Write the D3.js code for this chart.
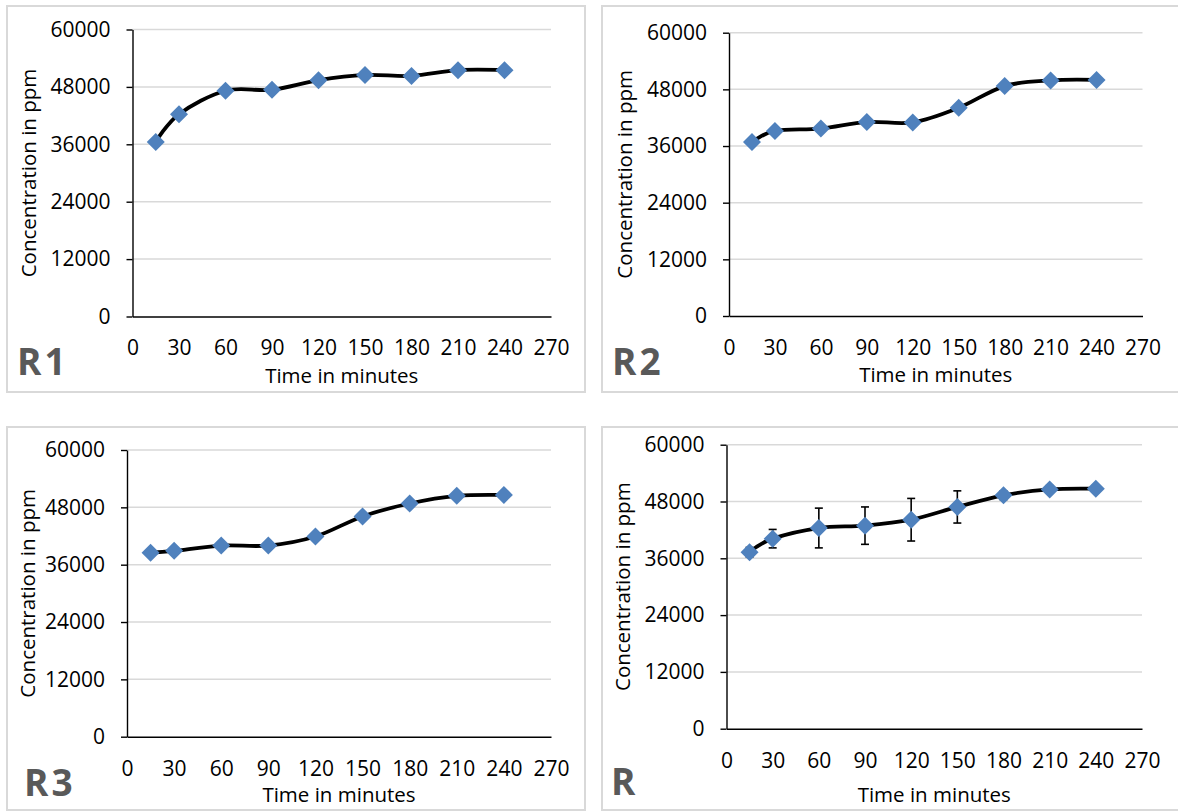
<!DOCTYPE html>
<html>
<head>
<meta charset="utf-8">
<script src="https://cdn.jsdelivr.net/npm/d3@7"></script>
<style>
  html, body { margin: 0; padding: 0; background: #ffffff; }
  svg { display: block; }
  text { font-family: "Open Sans", "DejaVu Sans", sans-serif; fill: #000; }
</style>
</head>
<body>
<svg id="chart" width="1178" height="812"></svg>
<script>
// ---------------- data ----------------
const times = [15, 30, 60, 90, 120, 150, 180, 210, 240];
const r1Values = [36500, 42300, 47200, 47400, 49400, 50500, 50300, 51500, 51500];
const r2Values = [36850, 39200, 39700, 41100, 41000, 44100, 48700, 49900, 50000];
const r3Values = [38500, 38900, 40000, 40000, 41900, 46100, 48800, 50400, 50600];
const rValues  = [37300, 40150, 42400, 42900, 44150, 46850, 49300, 50550, 50700];
const rErrors  = [1000, 1950, 4200, 3950, 4500, 3400, 900, 800, 750];
const xTicks = [0, 30, 60, 90, 120, 150, 180, 210, 240, 270];
const yTicks = [0, 12000, 24000, 36000, 48000, 60000];
const panelLabels = ["R1", "R2", "R3", "R"];
const xTitle = "Time in minutes";
const yTitle = "Concentration in ppm";

// ---------------- layout ----------------
const panels = [
  { label: panelLabels[0], values: r1Values, errors: null,
    frame: {x: 7, y: 6, w: 578, h: 386},
    px0: 132.5, px1: 551, py0: 316.5, py1: 29.5,
    yTitleX: 28, xTitleY: 383, lab: {x: 17, y: 375} },
  { label: panelLabels[1], values: r2Values, errors: null,
    frame: {x: 602, y: 6, w: 600, h: 386},
    px0: 729, px1: 1142.5, py0: 316, py1: 32.7,
    yTitleX: 624, xTitleY: 382, lab: {x: 612, y: 375} },
  { label: panelLabels[2], values: r3Values, errors: null,
    frame: {x: 7, y: 427, w: 578, h: 383},
    px0: 127, px1: 551, py0: 736.7, py1: 450,
    yTitleX: 27, xTitleY: 802, lab: {x: 24, y: 796} },
  { label: panelLabels[3], values: rValues, errors: rErrors,
    frame: {x: 602, y: 427, w: 600, h: 383},
    px0: 726.5, px1: 1142, py0: 728.7, py1: 444.7,
    yTitleX: 622, xTitleY: 802, lab: {x: 611, y: 795} }
];

const svg = d3.select("#chart");
const FS = 21;
const blue = "#4f81bd";
const gridColor = "#d9d9d9";

function diamond(r) {
  return `M0,${-r}L${r},0L0,${r}L${-r},0Z`;
}

panels.forEach(p => {
  const g = svg.append("g");

  // frame
  g.append("rect")
    .attr("x", p.frame.x).attr("y", p.frame.y)
    .attr("width", p.frame.w).attr("height", p.frame.h)
    .attr("fill", "#fff").attr("stroke", gridColor).attr("stroke-width", 2);

  const x = d3.scaleLinear().domain([0, 270]).range([p.px0, p.px1]);
  const y = d3.scaleLinear().domain([0, 60000]).range([p.py0, p.py1]);

  // gridlines
  g.append("g").selectAll("line")
    .data(yTicks.filter(v => v > 0))
    .join("line")
    .attr("x1", x(0)).attr("x2", x(270))
    .attr("y1", d => y(d)).attr("y2", d => y(d))
    .attr("stroke", gridColor).attr("stroke-width", 1.5);

  // y axis
  const yAxis = g.append("g")
    .attr("transform", `translate(${x(0)},0)`)
    .call(d3.axisLeft(y).tickValues(yTicks).tickSize(6).tickSizeOuter(0).tickPadding(16).tickFormat(d3.format("d")));
  yAxis.select(".domain").attr("stroke", "#000").attr("stroke-width", 1.4);
  yAxis.selectAll(".tick line").attr("stroke", "#000").attr("stroke-width", 1.4);
  yAxis.selectAll(".tick text").attr("font-size", FS).attr("font-family", "Open Sans").attr("fill", "#000");

  // x axis
  const xAxis = g.append("g")
    .attr("transform", `translate(0,${y(0)})`)
    .call(d3.axisBottom(x).tickValues(xTicks).tickSize(0).tickSizeOuter(0).tickPadding(24).tickFormat(d3.format("d")));
  xAxis.select(".domain").attr("stroke", "#000").attr("stroke-width", 1.4);
  xAxis.selectAll(".tick text").attr("font-size", FS).attr("font-family", "Open Sans").attr("fill", "#000");

  // axis titles
  g.append("text")
    .attr("x", (x(0) + x(270)) / 2).attr("y", p.xTitleY)
    .attr("text-anchor", "middle").attr("font-size", FS - 0.5)
    .text(xTitle);
  g.append("text")
    .attr("transform", `translate(${p.yTitleX},${(y(0) + y(60000)) / 2}) rotate(-90)`)
    .attr("text-anchor", "middle").attr("dominant-baseline", "central").attr("font-size", FS - 0.5)
    .text(yTitle);

  // panel label
  g.append("text")
    .attr("x", p.lab.x).attr("y", p.lab.y)
    .attr("font-size", 37).attr("font-weight", "bold")
    .attr("letter-spacing", 3)
    .style("fill", "#595959")
    .text(p.label);

  const pts = times.map((t, i) => ({t, v: p.values[i], e: p.errors ? p.errors[i] : 0}));

  // smooth line
  const line = d3.line().x(d => x(d.t)).y(d => y(d.v)).curve(d3.curveCatmullRom.alpha(0));
  g.append("path").datum(pts)
    .attr("d", line).attr("fill", "none")
    .attr("stroke", "#000").attr("stroke-width", 3.8)
    .attr("stroke-linejoin", "round").attr("stroke-linecap", "round");

  // error bars
  if (p.errors) {
    const eb = g.append("g").selectAll("g").data(pts).join("g");
    eb.append("line")
      .attr("x1", d => x(d.t)).attr("x2", d => x(d.t))
      .attr("y1", d => y(d.v - d.e)).attr("y2", d => y(d.v + d.e))
      .attr("stroke", "#000").attr("stroke-width", 1.6);
    eb.append("line")
      .attr("x1", d => x(d.t) - 4).attr("x2", d => x(d.t) + 4)
      .attr("y1", d => y(d.v + d.e)).attr("y2", d => y(d.v + d.e))
      .attr("stroke", "#000").attr("stroke-width", 1.6);
    eb.append("line")
      .attr("x1", d => x(d.t) - 4).attr("x2", d => x(d.t) + 4)
      .attr("y1", d => y(d.v - d.e)).attr("y2", d => y(d.v - d.e))
      .attr("stroke", "#000").attr("stroke-width", 1.6);
  }

  // markers
  g.append("g").selectAll("path").data(pts).join("path")
    .attr("transform", d => `translate(${x(d.t)},${y(d.v)})`)
    .attr("d", diamond(9))
    .attr("fill", blue);
});
</script>
</body>
</html>
